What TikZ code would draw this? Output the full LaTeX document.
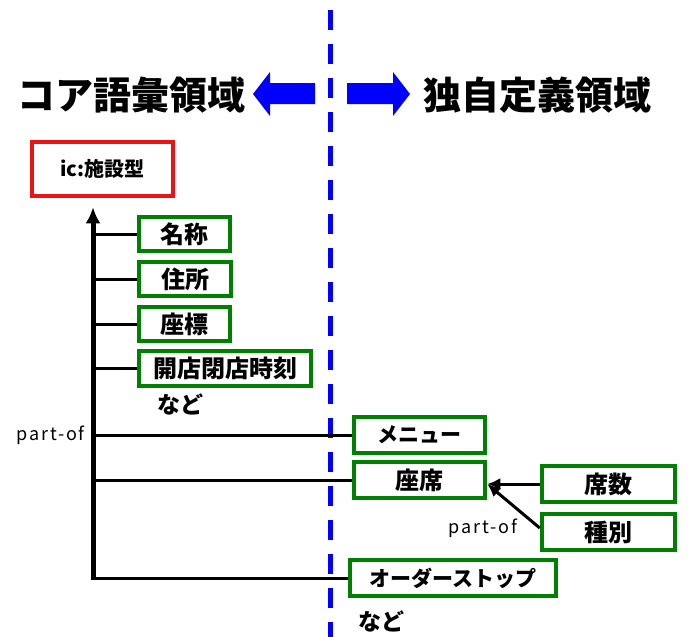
\documentclass[tikz,border=0pt]{standalone}
\usepackage{fontspec}
\setmainfont{Noto Sans CJK JP}
\newfontfamily\relfont{Noto Sans CJK JP}[LetterSpace=10]
\usepackage{tikz}
\usetikzlibrary{positioning,arrows.meta,calc}
\definecolor{boxgreen}{RGB}{0,128,0}
\definecolor{typered}{RGB}{235,20,20}
\definecolor{splitblue}{RGB}{0,0,255}

\begin{document}
\begin{tikzpicture}[x=1pt,y=-1pt,
    regiontitle/.style={font=\bfseries\fontsize{38}{38}\selectfont,inner sep=0pt},
    typebox/.style={draw=typered,line width=4.5pt,inner sep=0pt,font=\bfseries\fontsize{20}{20}\selectfont},
    termbox/.style={draw=boxgreen,line width=4.5pt,inner sep=0pt,font=\bfseries\fontsize{24}{24}\selectfont},
    kana/.style={font=\bfseries\fontsize{21}{21}\selectfont},
    etc/.style={font=\bfseries\fontsize{23}{23}\selectfont,inner sep=0pt},
    branch/.style={black,line width=3pt},
    partlabel/.style={font=\relfont\fontsize{18}{18}\selectfont,inner sep=0pt}]
% Page: 688 x 637, 1 unit = 1px, y grows downward
\useasboundingbox (0,0) rectangle (688,637);

% Dividing line
\draw[splitblue,line width=5pt,dash pattern=on 20pt off 14pt] (330,10) -- (330,637);

% Region titles and arrows
\node[regiontitle] (core) at (131,95) {コア語彙領域};
\node[regiontitle] (own) at (537,95) {独自定義領域};
\fill[splitblue] (315,83) -- (270,83) -- (270,72) -- (253,94) -- (270,116) -- (270,104) -- (315,104) -- cycle;
\fill[splitblue] (347,83) -- (393,83) -- (393,72) -- (410,94) -- (393,116) -- (393,104) -- (347,104) -- cycle;

% Class
\node[typebox,minimum width=141pt,minimum height=54pt] (type) at (102.5,169) {ic:施設型};

% Core vocabulary properties
\node[termbox,minimum width=91pt,minimum height=34pt] (name) at (184.5,234) {名称};
\node[termbox,minimum width=92pt,minimum height=34pt] (address) at (185,279) {住所};
\node[termbox,minimum width=91pt,minimum height=34pt] (coord) at (184.5,324) {座標};
\node[termbox,minimum width=172pt,minimum height=35pt] (hours) at (225,368.5) {開店閉店時刻};
\node[etc] (etccore) at (180,404) {など};

% Own properties
\node[termbox,kana,minimum width=131pt,minimum height=36pt] (menu) at (419.5,435) {メニュー};
\node[termbox,minimum width=131pt,minimum height=36pt] (seat) at (419.5,480) {座席};
\node[termbox,minimum width=133pt,minimum height=36pt] (seatcount) at (608.5,484) {席数};
\node[termbox,minimum width=133pt,minimum height=36pt] (seattype) at (608.5,532) {種別};
\node[termbox,kana,minimum width=206pt,minimum height=36pt] (order) at (453,578) {オーダーストップ};
\node[etc] (etcown) at (381,621) {など};

% part-of axis
\coordinate (base) at (93,579.5);
\draw[line width=5pt,-{Latex[length=16pt,width=15pt]},shorten >=9pt] (base) -- (base |- type.south);
\foreach \n in {name,address,coord,hours,menu,seat,order}
    \draw[branch] (base |- \n.west) -- (\n.west);
\node[partlabel,left=8pt of base |- menu.west] (axisrel) {part-of};

% Seat parts
\draw[branch,-{Latex[length=13pt,width=12pt]}] (seatcount.west) -- (seat.east |- seatcount.west);
\draw[branch,-{Latex[length=13pt,width=12pt]}] ([yshift=4pt]seattype.west) -- (seat.east |- seatcount.west);
\node[partlabel] (seatrel) at (483,528) {part-of};
\end{tikzpicture}
\end{document}
